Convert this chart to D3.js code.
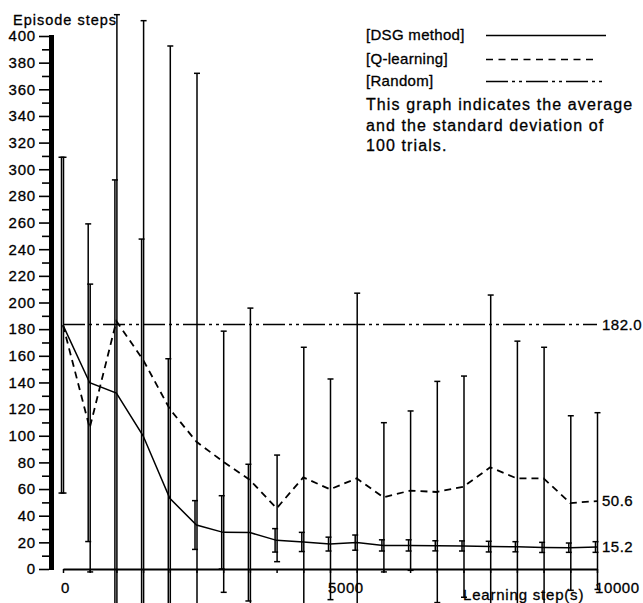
<!DOCTYPE html>
<html>
<head>
<meta charset="utf-8">
<script src="https://cdn.jsdelivr.net/npm/d3@7"></script>
<style>
body { margin: 0; background: #fff; }
svg { display: block; }
svg text { stroke: #000; stroke-width: 0.3px; }
</style>
</head>
<body>
<script>
//average episode steps vs learning steps, 100 trials

//pseudo-global data
var steps = [0, 500, 1000, 1500, 2000, 2500, 3000, 3500, 4000, 4500, 5000,
             5500, 6000, 6500, 7000, 7500, 8000, 8500, 9000, 9500, 10000];
var dsgMean = [183, 139.8, 132, 100, 53, 33, 27.5, 27.3, 21.5, 20.3, 18.7,
               19.8, 17.7, 17.7, 17.4, 17.3, 16.8, 16.7, 16.2, 16, 16.5];
var dsgStd  = [126, 119.2, 160, 147.6, 104.8, 18.3, 27.5, 51.3, 8.8, 7.2, 5.2,
               5.7, 4.2, 4.2, 3.8, 3.8, 4, 3.8, 3.8, 3.5, 4];
var qMean   = [183, 105.8, 186, 157, 120, 95.5, 80.5, 66.8, 45.5, 68.8, 59.8,
               68, 53.8, 58.8, 57.8, 61.8, 76.3, 68, 68, 49.5, 51];
var qStd    = [126, 108, 230, 254.5, 272.5, 276.5, 98, 129, 40, 97.6, 82.8,
               139, 56, 59.8, 83, 83, 129.3, 103, 98.4, 65.5, 66.3];
var randomMean = 183.5;

var yMajor = d3.range(0, 401, 20);
var yMinor = d3.range(10, 400, 20);
var xLabels = [0, 5000, 10000];
var legendNames = ["[DSG method]", "[Q-learning]", "[Random]"];
var noteLines = ["This graph indicates the average", "and the standard deviation of", "100  trials."];
var endLabels = ["15.2", "50.6", "182.0"];

var font = "'Liberation Sans', Arial, sans-serif";
var width = 643, height = 603;

var x = d3.scaleLinear().domain([0, 10000]).range([63, 597]);
var y = d3.scaleLinear().domain([0, 400]).range([569, 36]);

var svg = d3.select("body")
    .append("svg")
    .attr("width", width)
    .attr("height", height)
    .style("font-family", font);

//y axis - major ticks with labels
var yAxis = svg.append("g")
    .attr("transform", "translate(49,0)")
    .call(d3.axisLeft(y).tickValues(yMajor).tickSize(10).tickSizeOuter(0).tickPadding(3));
yAxis.attr("font-family", font).attr("font-size", 15);
yAxis.select(".domain").remove();
yAxis.selectAll("line").attr("stroke", "#000").attr("stroke-width", 1.6);
yAxis.selectAll("text").attr("fill", "#000").attr("letter-spacing", 0.8);

//minor ticks
var yMinorAxis = svg.append("g")
    .attr("transform", "translate(49,0)")
    .call(d3.axisLeft(y).tickValues(yMinor).tickSize(7).tickFormat(""));
yMinorAxis.select(".domain").remove();
yMinorAxis.selectAll("line").attr("stroke", "#000").attr("stroke-width", 1.6);

//thick axis bar
svg.append("line")
    .attr("x1", 51.5).attr("x2", 51.5)
    .attr("y1", y(0) + 1).attr("y2", y(400) - 1)
    .attr("stroke", "#000")
    .attr("stroke-width", 5);

svg.append("text")
    .attr("x", 13).attr("y", 25)
    .attr("font-size", 14.5)
    .attr("letter-spacing", 1)
    .text("Episode steps");

//x axis
var xAxis = svg.append("g")
    .attr("transform", "translate(0," + y(0) + ")")
    .call(d3.axisBottom(x).tickValues(steps).tickSize(4).tickSizeOuter(0).tickFormat(""));
xAxis.select(".domain").attr("stroke", "#000").attr("stroke-width", 2);
xAxis.selectAll("line").attr("stroke", "#000").attr("stroke-width", 1.5);

svg.selectAll(".xLabel")
    .data(xLabels)
    .enter()
    .append("text")
    .attr("class", "xLabel")
    .attr("x", function(d){ return x(d) - 2; })
    .attr("y", 593)
    .attr("font-size", 15)
    .attr("letter-spacing", 0.6)
    .text(function(d){ return d; });

svg.append("text")
    .attr("x", 463).attr("y", 600)
    .attr("font-size", 15)
    .attr("letter-spacing", 0.8)
    .text("Learning step(s)");

//random baseline
svg.append("line")
    .attr("x1", x(0)).attr("x2", x(10000))
    .attr("y1", y(randomMean)).attr("y2", y(randomMean))
    .attr("stroke", "#000")
    .attr("stroke-width", 1.5)
    .attr("stroke-dasharray", "22,4,3,4,3,4");

//error bars
function drawBars(means, stds, dx, cls){
    var g = svg.append("g").attr("class", cls)
        .attr("stroke", "#000")
        .attr("stroke-width", 1.5);
    var bars = g.selectAll("g")
        .data(steps)
        .enter()
        .append("g");
    bars.append("line")
        .attr("x1", function(d){ return x(d) + dx; })
        .attr("x2", function(d){ return x(d) + dx; })
        .attr("y1", function(d, i){ return y(means[i] + stds[i]); })
        .attr("y2", function(d, i){ return y(means[i] - stds[i]); });
    [1, -1].forEach(function(sign){
        bars.append("line")
            .attr("x1", function(d){ return x(d) + dx - 3; })
            .attr("x2", function(d){ return x(d) + dx + 3; })
            .attr("y1", function(d, i){ return y(means[i] + sign * stds[i]); })
            .attr("y2", function(d, i){ return y(means[i] + sign * stds[i]); });
    });
}; //end of drawBars

drawBars(dsgMean, dsgStd, -1.5, "dsgBars");
drawBars(qMean, qStd, 0.5, "qBars");

//mean lines
var line = function(means){
    return d3.line()
        .x(function(d){ return x(d); })
        .y(function(d, i){ return y(means[i]); })(steps);
};

svg.append("path")
    .attr("d", line(dsgMean))
    .attr("fill", "none")
    .attr("stroke", "#000")
    .attr("stroke-width", 1.5);

svg.append("path")
    .attr("d", line(qMean))
    .attr("fill", "none")
    .attr("stroke", "#000")
    .attr("stroke-width", 1.8)
    .attr("stroke-dasharray", "7,5");

//end value labels
var endValues = [dsgMean[20], qMean[20], randomMean];
svg.selectAll(".endLabel")
    .data(endLabels)
    .enter()
    .append("text")
    .attr("class", "endLabel")
    .attr("x", 602)
    .attr("y", function(d, i){ return y(endValues[i]); })
    .attr("dy", "0.36em")
    .attr("font-size", 15)
    .attr("letter-spacing", 0.5)
    .text(function(d){ return d; });

//legend
var legendY = [40, 64, 86];
var legendEnd = [606, 598, 604];
var legendDash = [null, "7,5.5", "22,4,3,4,3,4"];
legendNames.forEach(function(name, i){
    svg.append("text")
        .attr("x", 366).attr("y", legendY[i])
        .attr("font-size", 15)
        .attr("letter-spacing", 0.3)
        .text(name);
    svg.append("line")
        .attr("x1", 486).attr("x2", legendEnd[i])
        .attr("y1", legendY[i] - 4.5).attr("y2", legendY[i] - 4.5)
        .attr("stroke", "#000")
        .attr("stroke-width", 1.5)
        .attr("stroke-dasharray", legendDash[i]);
});

svg.selectAll(".note")
    .data(noteLines)
    .enter()
    .append("text")
    .attr("class", "note")
    .attr("x", 366)
    .attr("y", function(d, i){ return 110 + i * 20.5; })
    .attr("font-size", 16)
    .attr("letter-spacing", 1.1)
    .text(function(d){ return d; });
</script>
</body>
</html>
